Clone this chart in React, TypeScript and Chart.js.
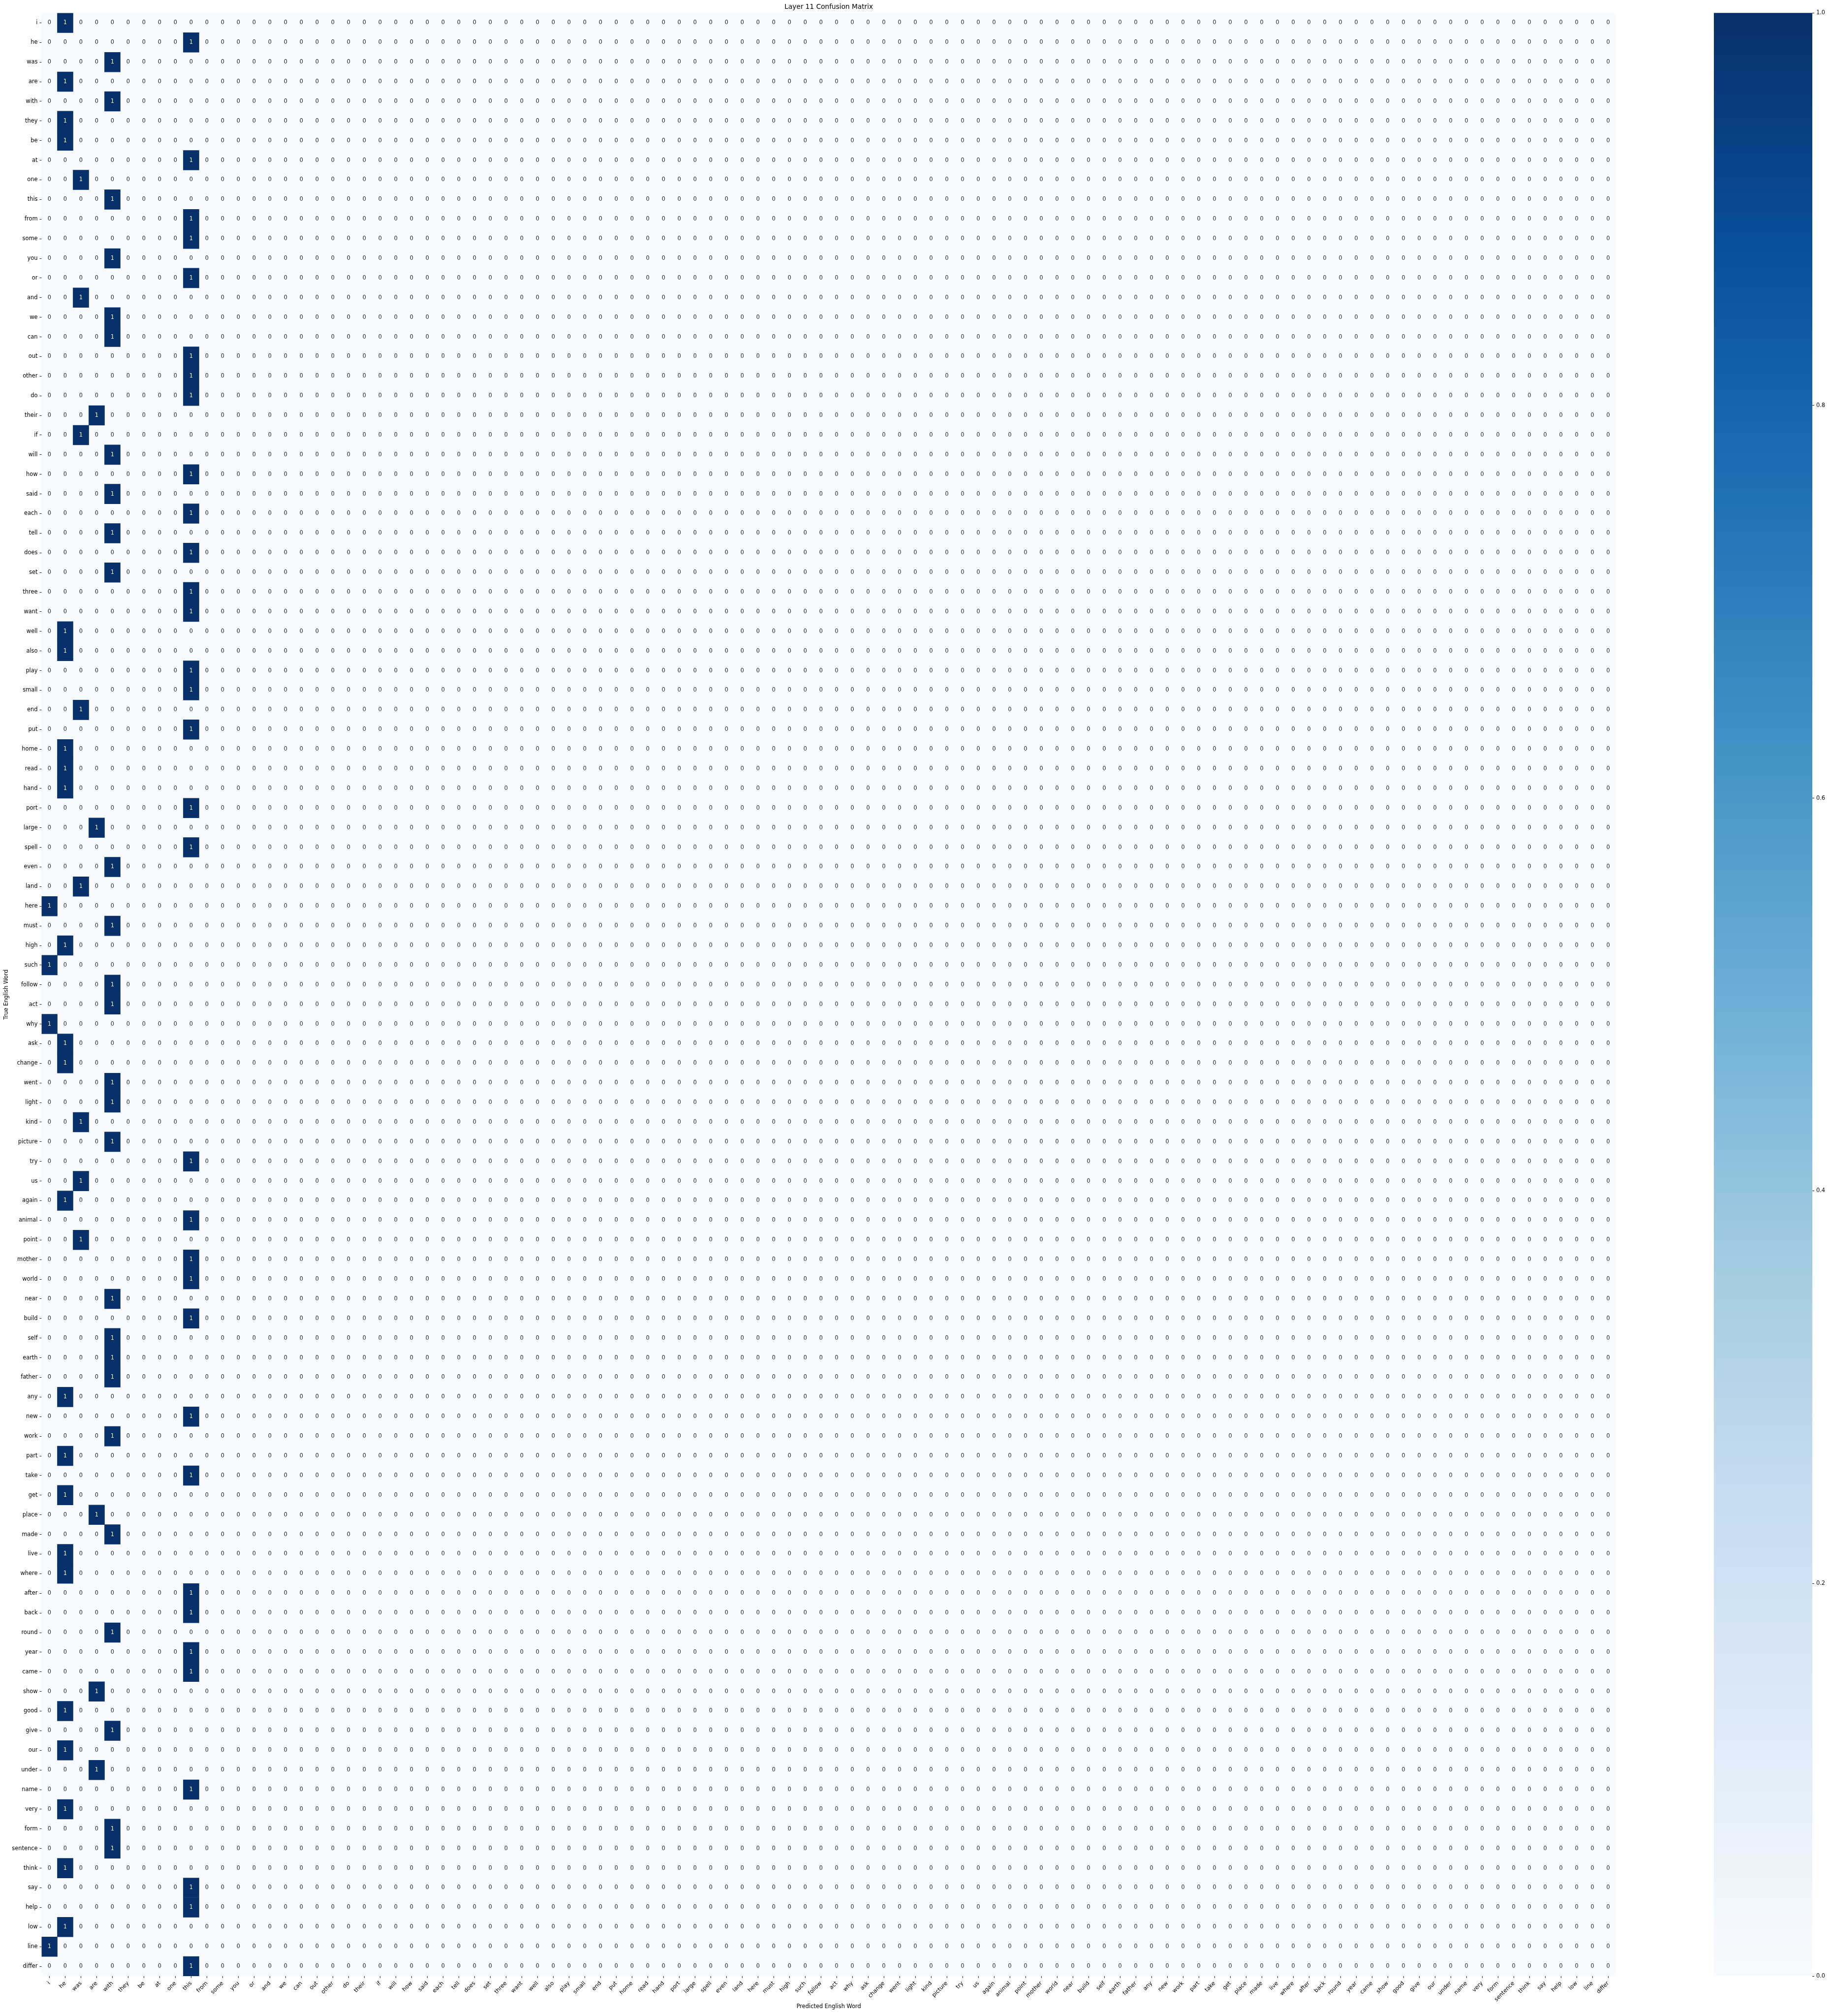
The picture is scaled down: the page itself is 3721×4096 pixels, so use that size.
import React, { useEffect, useRef } from 'react';
import { Chart, registerables } from 'chart.js';

Chart.register(...registerables);

const TITLE = 'Layer 11 Confusion Matrix';
const X_TITLE = 'Predicted English Word';
const Y_TITLE = 'True English Word';

const predictedWords = [
  'i', 'he', 'was', 'are', 'with', 'they', 'be', 'at', 'one', 'this',
  'from', 'some', 'you', 'or', 'and', 'we', 'can', 'out', 'other', 'do',
  'their', 'if', 'will', 'how', 'said', 'each', 'tell', 'does', 'set', 'three',
  'want', 'well', 'also', 'play', 'small', 'end', 'put', 'home', 'read', 'hand',
  'port', 'large', 'spell', 'even', 'land', 'here', 'must', 'high', 'such', 'follow',
  'act', 'why', 'ask', 'change', 'went', 'light', 'kind', 'picture', 'try', 'us',
  'again', 'animal', 'point', 'mother', 'world', 'near', 'build', 'self', 'earth', 'father',
  'any', 'new', 'work', 'part', 'take', 'get', 'place', 'made', 'live', 'where',
  'after', 'back', 'round', 'year', 'came', 'show', 'good', 'give', 'our', 'under',
  'name', 'very', 'form', 'sentence', 'think', 'say', 'help', 'low', 'line', 'differ',
];

const trueWords = [
  'i', 'he', 'was', 'are', 'with', 'they', 'be', 'at', 'one', 'this',
  'from', 'some', 'you', 'or', 'and', 'we', 'can', 'out', 'other', 'do',
  'their', 'if', 'will', 'how', 'said', 'each', 'tell', 'does', 'set', 'three',
  'want', 'well', 'also', 'play', 'small', 'end', 'put', 'home', 'read', 'hand',
  'port', 'large', 'spell', 'even', 'land', 'here', 'must', 'high', 'such', 'follow',
  'act', 'why', 'ask', 'change', 'went', 'light', 'kind', 'picture', 'try', 'us',
  'again', 'animal', 'point', 'mother', 'world', 'near', 'build', 'self', 'earth', 'father',
  'any', 'new', 'work', 'part', 'take', 'get', 'place', 'made', 'live', 'where',
  'after', 'back', 'round', 'year', 'came', 'show', 'good', 'give', 'our', 'under',
  'name', 'very', 'form', 'sentence', 'think', 'say', 'help', 'low', 'line', 'differ',
];

// predicted word for each true word (each row has a single count of 1)
const predictedForTrue = [
  'he', 'this', 'with', 'he', 'with', 'he', 'he', 'this', 'was', 'with',
  'this', 'this', 'with', 'this', 'was', 'with', 'with', 'this', 'this', 'this',
  'are', 'was', 'with', 'this', 'with', 'this', 'with', 'this', 'with', 'this',
  'this', 'he', 'he', 'this', 'this', 'was', 'this', 'he', 'he', 'he',
  'this', 'are', 'this', 'with', 'was', 'i', 'with', 'he', 'i', 'with',
  'with', 'i', 'he', 'he', 'with', 'with', 'was', 'with', 'this', 'was',
  'he', 'this', 'was', 'this', 'this', 'with', 'this', 'with', 'with', 'with',
  'he', 'this', 'with', 'he', 'this', 'he', 'are', 'with', 'he', 'he',
  'this', 'this', 'with', 'this', 'this', 'are', 'he', 'with', 'he', 'are',
  'this', 'he', 'with', 'with', 'he', 'this', 'this', 'he', 'i', 'this',
];

const countPerPrediction = 1;

const colorbarTicks = [0, 0.2, 0.4, 0.6, 0.8, 1.0];

const bluesStops = [
  '#f7fbff', '#deebf7', '#c6dbef', '#9ecae1', '#6baed6',
  '#4292c6', '#2171b5', '#08519c', '#08306b',
];

const counts = trueWords.map((_, r) =>
  predictedWords.map((p) => (p === predictedForTrue[r] ? countPerPrediction : 0))
);

const FONT_FAMILY = '"DejaVu Sans", sans-serif';
const TICK_FONT = { family: FONT_FAMILY, size: 11.4 };
const TITLE_FONT = { family: FONT_FAMILY, size: 13.7, weight: 'normal' as const };

function hexToRgb(h: string) {
  const n = parseInt(h.slice(1), 16);
  return [(n >> 16) & 255, (n >> 8) & 255, n & 255];
}

function cmap(v: number) {
  const t = Math.min(1, Math.max(0, v)) * (bluesStops.length - 1);
  const i = Math.min(bluesStops.length - 2, Math.floor(t));
  const f = t - i;
  const a = hexToRgb(bluesStops[i]);
  const b = hexToRgb(bluesStops[i + 1]);
  const c = a.map((x, k) => Math.round(x + (b[k] - x) * f));
  return `rgb(${c[0]}, ${c[1]}, ${c[2]})`;
}

const heatmapPlugin = {
  id: 'heatmapCells',
  beforeDatasetsDraw(chart: any) {
    const { ctx, chartArea: a } = chart;
    ctx.save();
    ctx.fillStyle = cmap(0);
    ctx.fillRect(a.left, a.top, a.right - a.left, a.bottom - a.top);
    ctx.restore();
  },
  afterDatasetsDraw(chart: any) {
    const { ctx } = chart;
    const xs = chart.scales.x;
    const ys = chart.scales.y;
    ctx.save();
    ctx.font = `${TICK_FONT.size}px ${FONT_FAMILY}`;
    ctx.textAlign = 'center';
    ctx.textBaseline = 'middle';
    counts.forEach((row, r) => {
      const y = ys.getPixelForValue(r);
      row.forEach((v, c) => {
        ctx.fillStyle = v > 0.5 ? '#ffffff' : '#262626';
        ctx.fillText(String(v), xs.getPixelForValue(c), y);
      });
    });
    ctx.restore();
  },
};

const MAIN_W = 3300;
const H = 4096;
const CB_LEFT = 3483;
const CB_W = 238;

export default function App() {
  const mainRef = useRef<HTMLCanvasElement | null>(null);
  const cbRef = useRef<HTMLCanvasElement | null>(null);

  useEffect(() => {
    document.body.style.margin = '0';
    Chart.defaults.font.family = FONT_FAMILY;

    const main = new Chart(mainRef.current as HTMLCanvasElement, {
      type: 'bar',
      data: {
        labels: trueWords,
        datasets: [
          {
            data: trueWords.map((_, r) => {
              const c = predictedWords.indexOf(predictedForTrue[r]);
              return [c - 0.5, c + 0.5];
            }) as any,
            backgroundColor: cmap(1),
            borderWidth: 0,
            barPercentage: 1,
            categoryPercentage: 1,
          },
        ],
      },
      options: {
        indexAxis: 'y',
        responsive: false,
        animation: false,
        devicePixelRatio: 1,
        layout: { padding: { left: 0, right: 16, top: 0, bottom: 0 } },
        plugins: {
          legend: { display: false },
          tooltip: { enabled: false },
          title: {
            display: true,
            text: TITLE,
            color: '#000',
            font: TITLE_FONT,
            fullSize: false,
            padding: { top: 6, bottom: 4 },
          },
        },
        scales: {
          x: {
            type: 'linear',
            min: -0.5,
            max: predictedWords.length - 0.5,
            afterBuildTicks: (s: any) => {
              s.ticks = predictedWords.map((_, i) => ({ value: i }));
            },
            afterFit: (s: any) => {
              s.height = 81;
            },
            ticks: {
              autoSkip: false,
              minRotation: 45,
              maxRotation: 45,
              padding: 4,
              color: '#000',
              font: TICK_FONT,
              callback: (v: any) => predictedWords[Math.round(Number(v))] ?? '',
            },
            grid: {
              drawOnChartArea: false,
              drawTicks: true,
              tickLength: 4,
              tickColor: '#000',
              tickWidth: 0.9,
            },
            border: { display: false },
            title: {
              display: true,
              text: X_TITLE,
              color: '#000',
              font: TICK_FONT,
              padding: { top: 0, bottom: 12 },
            },
          },
          y: {
            type: 'category',
            offset: true,
            afterFit: (s: any) => {
              s.width = 84.5;
            },
            ticks: {
              autoSkip: false,
              padding: 4,
              color: '#000',
              font: TICK_FONT,
            },
            grid: {
              offset: false,
              drawOnChartArea: false,
              drawTicks: true,
              tickLength: 4,
              tickColor: '#000',
              tickWidth: 0.9,
            },
            border: { display: false },
            title: {
              display: true,
              text: Y_TITLE,
              color: '#000',
              font: TICK_FONT,
              padding: { top: 6, bottom: 0 },
            },
          },
        },
      } as any,
      plugins: [heatmapPlugin],
    });

    const cb = new Chart(cbRef.current as HTMLCanvasElement, {
      type: 'bar',
      data: {
        labels: [''],
        datasets: [
          {
            data: [[colorbarTicks[0], colorbarTicks[colorbarTicks.length - 1]]] as any,
            backgroundColor: (c: any) => {
              const ch = c.chart;
              const a = ch.chartArea;
              if (!a) return cmap(1);
              const g = ch.ctx.createLinearGradient(0, a.bottom, 0, a.top);
              bluesStops.forEach((col, i) => g.addColorStop(i / (bluesStops.length - 1), col));
              return g;
            },
            borderWidth: 0,
            barPercentage: 1,
            categoryPercentage: 1,
          },
        ],
      },
      options: {
        responsive: false,
        animation: false,
        devicePixelRatio: 1,
        layout: { padding: { left: 0, right: 0, top: 26.2, bottom: 81 } },
        plugins: { legend: { display: false }, tooltip: { enabled: false } },
        scales: {
          x: { display: false },
          y: {
            position: 'right',
            min: colorbarTicks[0],
            max: colorbarTicks[colorbarTicks.length - 1],
            afterBuildTicks: (s: any) => {
              s.ticks = colorbarTicks.map((v) => ({ value: v }));
            },
            afterFit: (s: any) => {
              s.width = 38;
            },
            ticks: {
              padding: 4,
              color: '#000',
              font: TICK_FONT,
              callback: (v: any) => Number(v).toFixed(1),
            },
            grid: {
              drawOnChartArea: false,
              drawTicks: true,
              tickLength: 4,
              tickColor: '#000',
              tickWidth: 0.9,
            },
            border: { display: false },
          },
        },
      } as any,
    });

    return () => {
      main.destroy();
      cb.destroy();
    };
  }, []);

  return (
    <div style={{ position: 'fixed', left: 0, top: 0, width: 3721, height: H, background: '#fff', overflow: 'hidden' }}>
      <canvas ref={mainRef} width={MAIN_W} height={H} style={{ position: 'absolute', left: 0, top: 0 }} />
      <canvas ref={cbRef} width={CB_W} height={H} style={{ position: 'absolute', left: CB_LEFT, top: 0 }} />
    </div>
  );
}
